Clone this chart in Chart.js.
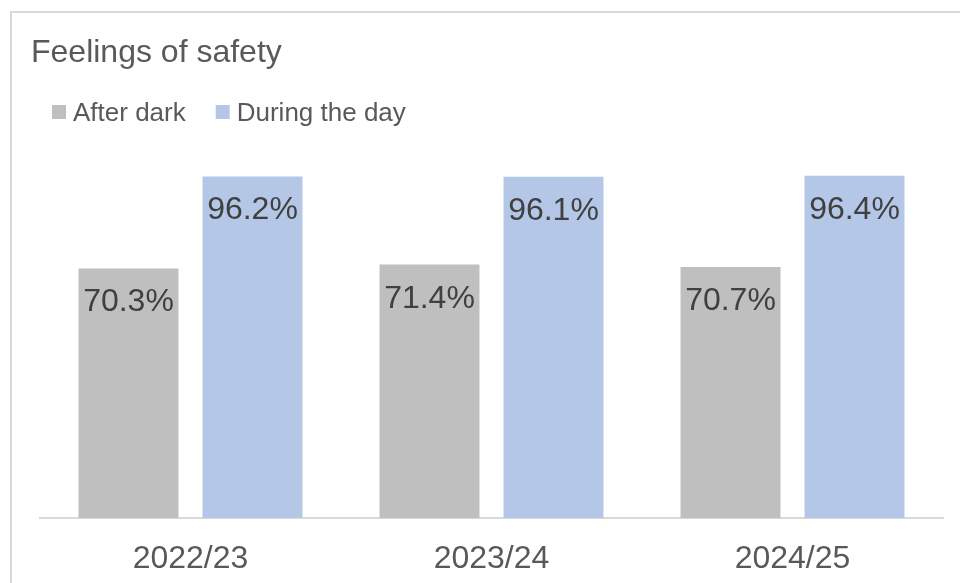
<!DOCTYPE html>
<html>
<head>
<meta charset="utf-8">
<script src="https://cdn.jsdelivr.net/npm/chart.js@4"></script>
<style>
  html, body { margin: 0; padding: 0; background: #fff; overflow: hidden; }
  #wrap { position: relative; width: 960px; height: 583px; }
  #frame {
    position: absolute; left: 10px; top: 11px; width: 1000px; height: 1000px;
    border-left: 2px solid #d9d9d9; border-top: 2px solid #d9d9d9;
  }
  #chart { position: absolute; left: 0; top: 0; }
</style>
</head>
<body>
<div id="wrap">
  <div id="frame"></div>
  <canvas id="chart" width="960" height="583"></canvas>
</div>
<script>
// DATA
const chartTitle = "Feelings of safety";
const years = ["2022/23", "2023/24", "2024/25"];
const afterDark = [70.3, 71.4, 70.7];
const duringDay = [96.2, 96.1, 96.4];
const seriesNames = ["After dark", "During the day"];
const seriesColors = ["#bfbfbf", "#b4c7e7"];

const fontFamily = "'Liberation Sans', Arial, sans-serif";

// title, legend and labels on the bars
const extrasPlugin = {
  id: "extras",
  afterDraw(chart) {
    const ctx = chart.ctx;
    ctx.save();

    // title
    ctx.fillStyle = "#595959";
    ctx.font = "32px " + fontFamily;
    ctx.textAlign = "left";
    ctx.textBaseline = "alphabetic";
    ctx.fillText(chartTitle, 31, 62);

    // legend
    ctx.font = "26px " + fontFamily;
    let x = 52;
    chart.data.datasets.forEach((ds) => {
      ctx.fillStyle = ds.backgroundColor;
      ctx.fillRect(x, 105, 14, 14);
      ctx.fillStyle = "#595959";
      ctx.fillText(ds.label, x + 21, 121);
      x += 21 + ctx.measureText(ds.label).width + 30;
    });

    // values inside bars
    ctx.font = "32px " + fontFamily;
    ctx.fillStyle = "#404040";
    ctx.textAlign = "center";
    chart.data.datasets.forEach((ds, i) => {
      const meta = chart.getDatasetMeta(i);
      meta.data.forEach((bar, j) => {
        ctx.fillText(ds.data[j].toFixed(1) + "%", bar.x, bar.y + 43);
      });
    });
    ctx.restore();
  }
};

const contenedor = document.querySelector("#chart").getContext("2d");

const safetyChart = new Chart(contenedor, {
  type: "bar",
  data: {
    labels: years,
    datasets: [
      {
        label: seriesNames[0],
        data: afterDark,
        backgroundColor: seriesColors[0],
        categoryPercentage: 0.824,
        barPercentage: 0.806,
      },
      {
        label: seriesNames[1],
        data: duringDay,
        backgroundColor: seriesColors[1],
        categoryPercentage: 0.824,
        barPercentage: 0.806,
      },
    ],
  },
  options: {
    responsive: false,
    animation: false,
    layout: {
      padding: { left: 40, right: 17, top: 163, bottom: 0 },
    },
    plugins: {
      legend: { display: false },
      title: { display: false },
      tooltip: { enabled: false },
    },
    scales: {
      x: {
        grid: { display: false, drawTicks: false },
        border: { display: true, color: "#d9d9d9", width: 2 },
        ticks: {
          color: "#595959",
          font: { family: fontFamily, size: 32, lineHeight: 1 },
          padding: 25,
        },
        afterFit(scale) {
          scale.height = 65;
        },
      },
      y: {
        display: false,
        min: 0,
        max: 100,
      },
    },
  },
  plugins: [extrasPlugin],
});
</script>
</body>
</html>
